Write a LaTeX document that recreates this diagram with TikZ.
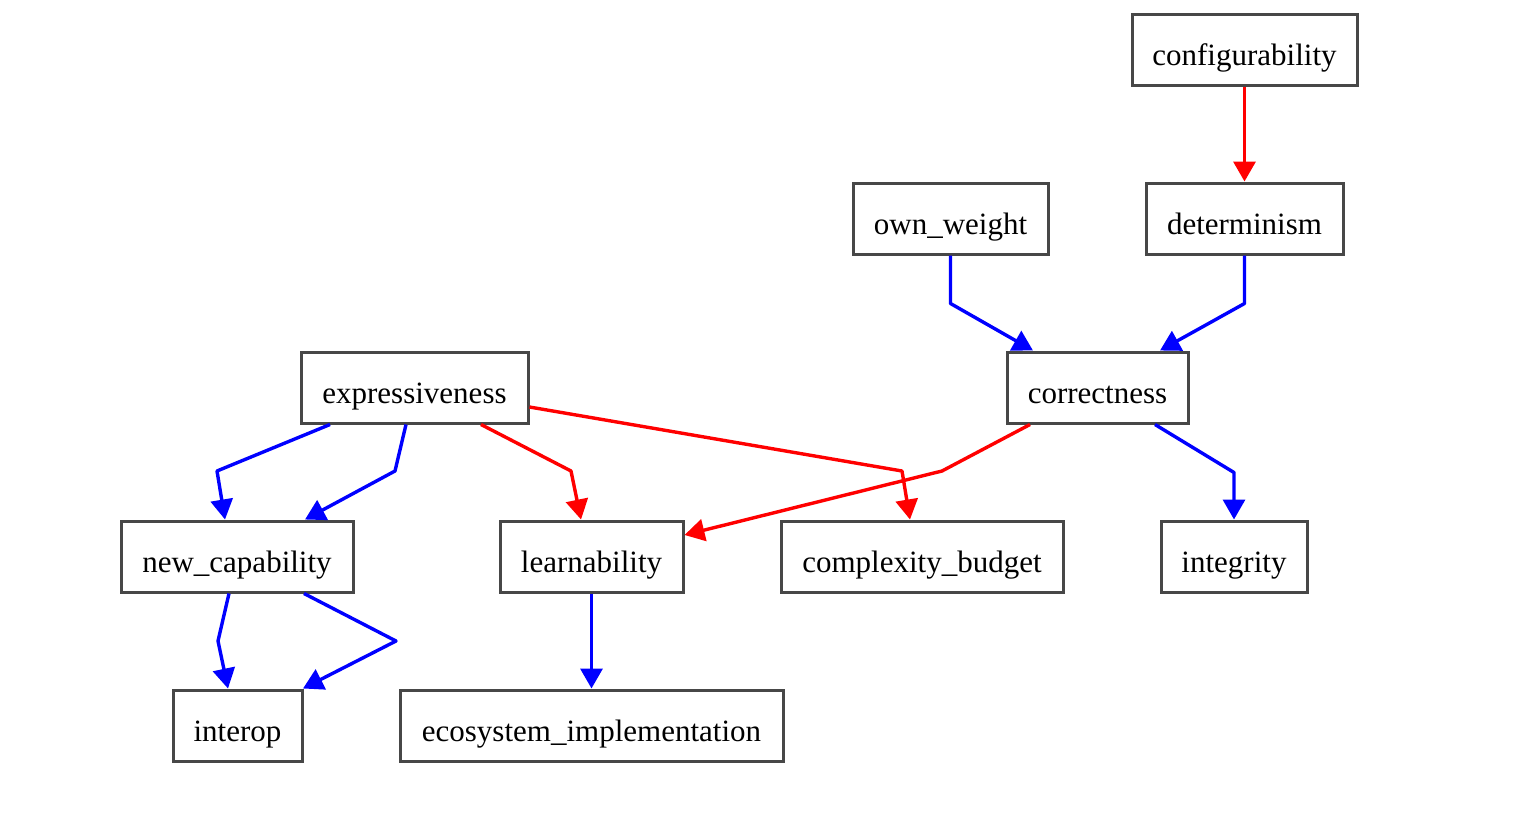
\documentclass[tikz,border=0pt]{standalone}
\usepackage{fontspec}
\setmainfont{Liberation Serif}
\usetikzlibrary{arrows.meta,calc}
\begin{document}
\begin{tikzpicture}[x=1pt,y=-1pt,
  box/.style={draw=black!72,line width=3pt,fill=white,inner sep=0pt,
    text height=31pt,text depth=0pt,
    font=\fontsize{31}{36}\selectfont},
  edge/.style={line width=3.4pt,line join=round,-{Triangle[length=20pt,width=22pt]}},
  redge/.style={edge,draw=red},
  bedge/.style={edge,draw=blue}]
\useasboundingbox (0,0) rectangle (1524,814);
\node[box,minimum width=225pt,minimum height=71pt] (conf) at (1244.5,49.5) {configurability};
\node[box,minimum width=195pt,minimum height=71pt] (own) at (950.5,218.5) {own\_weight};
\node[box,minimum width=197pt,minimum height=71pt] (det) at (1244.5,218.5) {determinism};
\node[box,minimum width=227pt,minimum height=71pt] (expr) at (414.5,387.5) {expressiveness};
\node[box,minimum width=181pt,minimum height=71pt] (corr) at (1097.5,387.5) {correctness};
\node[box,minimum width=232pt,minimum height=71pt] (newc) at (237,556.5) {new\_capability};
\node[box,minimum width=183pt,minimum height=71pt] (learn) at (591.5,556.5) {learnability};
\node[box,minimum width=282pt,minimum height=71pt] (cplx) at (922,556.5) {complexity\_budget};
\node[box,minimum width=146pt,minimum height=71pt] (integ) at (1234,556.5) {integrity};
\node[box,minimum width=129pt,minimum height=71pt] (interop) at (237.5,725.5) {interop};
\node[box,minimum width=383pt,minimum height=71pt] (eco) at (591.5,725.5) {ecosystem\_implementation};

\draw[redge] (conf.south) -- (det.north);
\draw[bedge] (own.south) -- ++(0,48) -- ([xshift=-64.5pt]corr.north);
\draw[bedge] (det.south) -- ++(0,48) -- ([xshift=62.5pt]corr.north);
\draw[bedge] ([xshift=-84.5pt]expr.south) -- (217,471) -- ([xshift=-12pt]newc.north);
\draw[bedge] ([xshift=-8.5pt]expr.south) -- (395,471) -- ([xshift=68pt]newc.north);
\draw[redge] ([xshift=66.5pt]expr.south) -- (571,471) -- ([xshift=-10.5pt]learn.north);
\draw[redge] ([yshift=-19.5pt]expr.east) -- (902,471) -- ([xshift=-12pt]cplx.north);
\draw[redge] ([xshift=-67.5pt]corr.south) -- (942,471) -- ([yshift=21.5pt]learn.east);
\draw[bedge] ([xshift=57.5pt]corr.south) -- ++(79,48) -- (integ.north);
\draw[bedge] ([xshift=-8pt]newc.south) -- (218,641) -- ([xshift=-9.5pt]interop.north);
\draw[bedge] ([xshift=67pt]newc.south) -- (396,641) -- ([xshift=65.5pt]interop.north);
\draw[bedge] (learn.south) -- (eco.north);
\end{tikzpicture}
\end{document}
